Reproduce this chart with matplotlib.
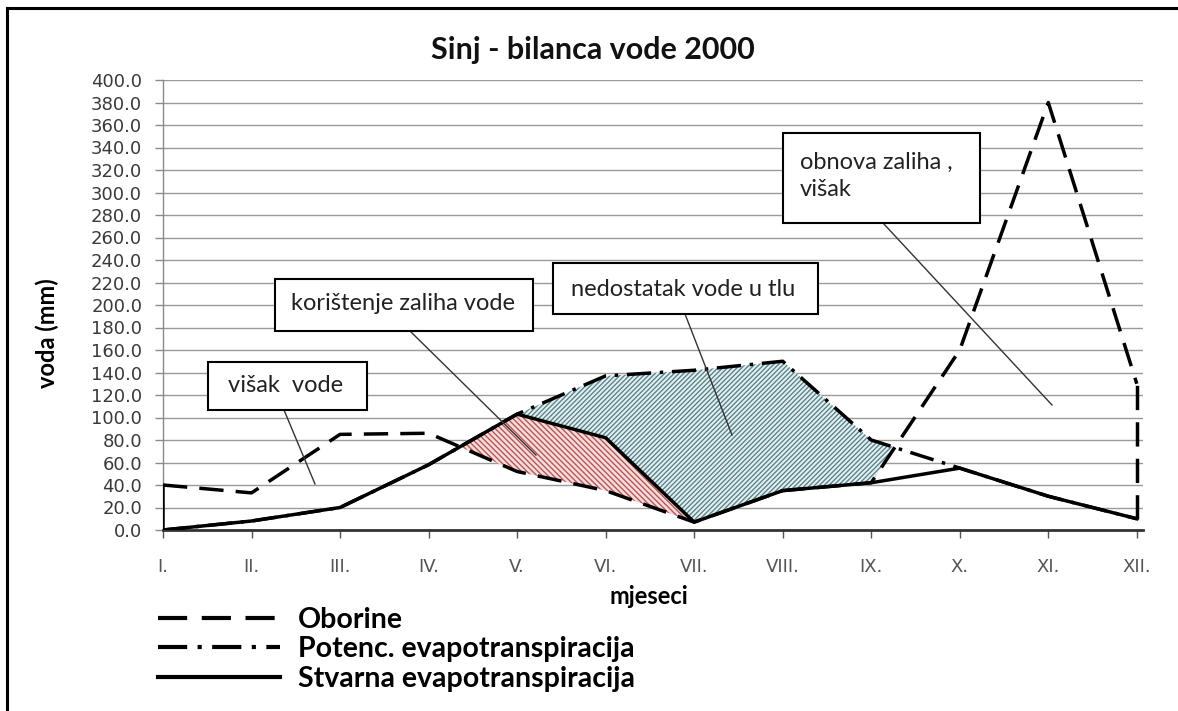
import matplotlib
matplotlib.use("Agg")
import matplotlib.pyplot as plt
import numpy as np
from matplotlib.patches import Rectangle
from matplotlib.lines import Line2D

# ---------------- data ----------------
months = ['I.', 'II.', 'III.', 'IV.', 'V.', 'VI.', 'VII.', 'VIII.', 'IX.', 'X.', 'XI.', 'XII.']
oborine = [40, 33, 85, 86, 52, 35, 7, 35, 42, 160, 380, 130]
potenc_et = [0, 8, 20, 58, 103, 137, 142, 150, 80, 55, 30, 10]
stvarna_et = [0, 8, 20, 58, 103, 82, 7, 35, 42, 55, 30, 10]
y_ticks = list(range(0, 401, 20))

title = 'Sinj - bilanca vode 2000'
legend_labels = ['Oborine', 'Potenc. evapotranspiracija', 'Stvarna evapotranspiracija']

W, H = 1178, 711
fig = plt.figure(figsize=(W / 100, H / 100), dpi=100)
fig.patch.set_facecolor('white')


def fx(x):
    return x / W


def fy(y):
    return 1 - y / H


ax = fig.add_axes([fx(163), fy(530), (1143 - 163) / W, (530 - 80) / H])
x = np.arange(1, len(months) + 1)
ob = np.array(oborine, float)
pe = np.array(potenc_et, float)
st = np.array(stvarna_et, float)

# fills
xf = np.linspace(1, 12, 2201)
obf = np.interp(xf, x, ob)
pef = np.interp(xf, x, pe)
stf = np.interp(xf, x, st)
low_blue = np.maximum(obf, stf)
plt.rcParams['hatch.linewidth'] = 1.0
ax.fill_between(xf, obf, stf, where=stf > obf + 1e-9, facecolor='#F7DADA',
                edgecolor='#B35A5A', hatch='\\\\\\\\\\\\', linewidth=0, zorder=2)
ax.fill_between(xf, low_blue, pef, where=pef > low_blue + 1e-9, facecolor='#E3F1F3',
                edgecolor='#5E8388', hatch='///////', linewidth=0, zorder=2)

lw = 2.5
l_ob, = ax.plot(x, ob, color='black', lw=lw, linestyle=(0, (7, 3.5)), zorder=4,
                solid_joinstyle='miter', label=legend_labels[0])
l_pe, = ax.plot(x, pe, color='black', lw=lw, linestyle=(0, (7, 2.5, 1, 2.5)), zorder=4,
                label=legend_labels[1])
l_st, = ax.plot(x, st, color='black', lw=lw, linestyle='-', zorder=5,
                label=legend_labels[2])
# closing vertical segments of the precipitation polygon
ax.vlines([x[0]], [st[0]], [ob[0]], colors='black', lw=1.8, zorder=4)
ax.vlines([x[-1]], [st[-1]], [ob[-1]], colors='black', lw=lw,
          linestyles=[(0, (7, 3.5))], zorder=4)

ax.set_xlim(1, 12.07)
ax.set_ylim(0, 400)
ax.set_yticks(y_ticks)
ax.set_yticklabels([f'{v:.1f}' for v in y_ticks])
ax.set_xticks(x)
ax.set_xticklabels(months)
ax.grid(axis='y', color='#9a9a9a', lw=1, zorder=0)
ax.set_axisbelow(True)
for s in ['top', 'right']:
    ax.spines[s].set_visible(False)
ax.spines['left'].set_color('#8a8a8a')
ax.spines['left'].set_linewidth(1)
ax.spines['bottom'].set_color('#333333')
ax.spines['bottom'].set_linewidth(2)
ax.tick_params(axis='y', direction='out', length=6, width=1, color='#8a8a8a',
               labelsize=13, labelcolor='#3a3a3a', pad=9)
ax.tick_params(axis='x', direction='out', length=6, width=1, color='#555555',
               labelsize=13, labelcolor='#555555', pad=14)
for t in ax.get_yticklabels() + ax.get_xticklabels():
    t.set_fontfamily('DejaVu Sans')

# titles / labels
fig.text(fx(593), fy(50), title, ha='center', va='center', fontsize=22,
         fontweight='bold', family='Lato', color='#111111')
fig.text(fx(47), fy(333), 'voda (mm)', ha='center', va='center', rotation=90,
         fontsize=17, fontweight='bold', family='Lato')
fig.text(fx(649), fy(597), 'mjeseci', ha='center', va='center', fontsize=17,
         fontweight='bold', family='Lato')

# legend
fs_leg = 20.5
leg = fig.legend(handles=[l_ob, l_pe, l_st], loc='upper left',
                 bbox_to_anchor=(fx(158), fy(607)), frameon=False, borderpad=0,
                 borderaxespad=0, handlelength=4.3, handletextpad=0.6,
                 labelspacing=0.12, prop={'family': 'Lato', 'weight': 'bold', 'size': fs_leg})
for h in leg.legend_handles:
    h.set_linewidth(3)

# callout boxes
boxes = [
    # (x0, y0, x1, y1, text, tx, ty, line_from, line_to)
    (208, 362, 367, 410, 'višak  vode', 228, 386, (284, 410), (315, 484)),
    (275, 279, 533, 331, 'korištenje zaliha vode', 291, 304, (410, 331), (536, 455)),
    (553, 263, 818, 314, 'nedostatak vode u tlu', 571, 289, (685, 314), (732, 435)),
    (783, 133, 980, 223, 'obnova zaliha ,\nvišak', 800, 176, (883, 223), (1052, 405)),
]
for x0, y0, x1, y1, txt, tx, ty, lf, lt in boxes:
    fig.add_artist(Line2D([fx(lf[0]), fx(lt[0])], [fy(lf[1]), fy(lt[1])],
                          color='#333333', lw=1.0, zorder=6))
    fig.add_artist(Rectangle((fx(x0), fy(y1)), fx(x1) - fx(x0), fy(y0) - fy(y1),
                             facecolor='white', edgecolor='black', lw=1.5, zorder=7))
    fig.text(fx(tx), fy(ty), txt, ha='left', va='center', fontsize=17, family='Lato',
             color='#222222', zorder=8, linespacing=1.35)

# outer border (left and top)
fig.add_artist(Line2D([fx(7), fx(7)], [0, fy(8)], color='black', lw=2.2, zorder=9))
fig.add_artist(Line2D([fx(7), 1], [fy(8), fy(8)], color='black', lw=2.2, zorder=9))

fig.savefig('out.png', dpi=100, facecolor='white')
